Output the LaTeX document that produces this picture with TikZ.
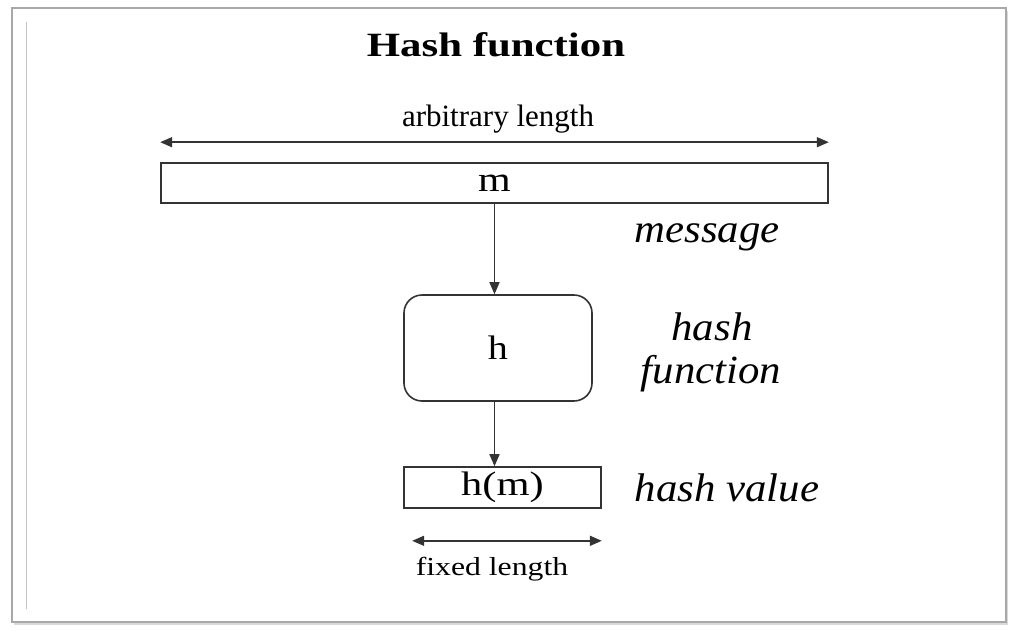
\documentclass[tikz,border=0pt]{standalone}
\usepackage{graphicx}
\usepackage{fontspec}
\setmainfont{Liberation Serif}
\usetikzlibrary{arrows.meta,shadows}
\definecolor{hfLine}{HTML}{333333}
\definecolor{hfFrame}{HTML}{A8A8A8}
\definecolor{hfRule}{HTML}{C4C4C4}
\newcommand{\wide}[2][1.2]{\scalebox{#1}[1]{#2}}

\begin{document}
\begin{tikzpicture}[x=1pt,y=-1pt,
    box/.style={draw=hfLine, line width=1.6pt, inner sep=0pt},
    lbl/.style={font=\fontsize{40}{44}\selectfont\itshape, inner sep=0pt, anchor=base},
    txt/.style={inner sep=0pt, anchor=base},
    arr/.style={-{Triangle[length=12pt,width=10pt]}, draw=hfLine, line width=1.6pt},
    dbl/.style={{Triangle[length=12pt,width=10pt]}-{Triangle[length=12pt,width=10pt]}, draw=hfLine, line width=1.6pt}]
    \useasboundingbox (0,0) rectangle (1018,638);
    % page frame
    \draw[hfFrame, line width=1.2pt, fill=white,
          drop shadow={shadow xshift=2pt, shadow yshift=-3pt, opacity=0.3}] (12,8) rectangle (1006,622);
    \draw[hfRule, line width=1pt] (26,22) -- (26,609);
    \node[txt, font=\fontsize{34}{40}\selectfont\bfseries] (title) at (496,56) {\wide[1.26]{Hash function}};
    % boxes
    \node[box, minimum width=667pt, minimum height=40pt, font=\fontsize{35}{40}\selectfont] (msg) at (494.5,183) {\wide{m}};
    \node[box, rounded corners=18pt, minimum width=188pt, minimum height=106pt, font=\fontsize{34}{40}\selectfont] (hbox) at (498,348) {\wide[1.18]{h}};
    \node[box, minimum width=197pt, minimum height=41pt, font=\fontsize{34}{40}\selectfont] (hm) at (502.5,487.5) {\raisebox{-3pt}{\wide[1.25]{h(m)}}};
    % lengths
    \coordinate (al) at ([yshift=20pt]msg.north west);
    \coordinate (ar) at ([yshift=20pt]msg.north east);
    \draw[dbl] (al) -- (ar);
    \node[txt, font=\fontsize{31}{36}\selectfont] (arblbl) at (498,126) {arbitrary length};
    \coordinate (fl) at ([xshift=9pt,yshift=-32pt]hm.south west);
    \coordinate (fr) at ([yshift=-32pt]hm.south east);
    \draw[dbl] (fl) -- (fr);
    \node[txt, font=\fontsize{26}{30}\selectfont] (fixlbl) at (492,575) {\wide[1.22]{fixed length}};
    % flow
    \draw[arr] (msg.south) -- (msg.south |- hbox.north);
    \draw[arr] (hbox.south -| msg.south) -- (hm.north -| msg.south);
    % side labels
    \node[lbl] (msglbl) at (707,242) {\wide[1.07]{message}};
    \node[lbl] (hashlbl) at (712,340) {\wide[1.07]{hash}};
    \node[lbl] (funclbl) at (711,383) {\wide[1.07]{function}};
    \node[lbl] (vallbl) at (727,501) {\wide[1.07]{hash value}};
\end{tikzpicture}
\end{document}
